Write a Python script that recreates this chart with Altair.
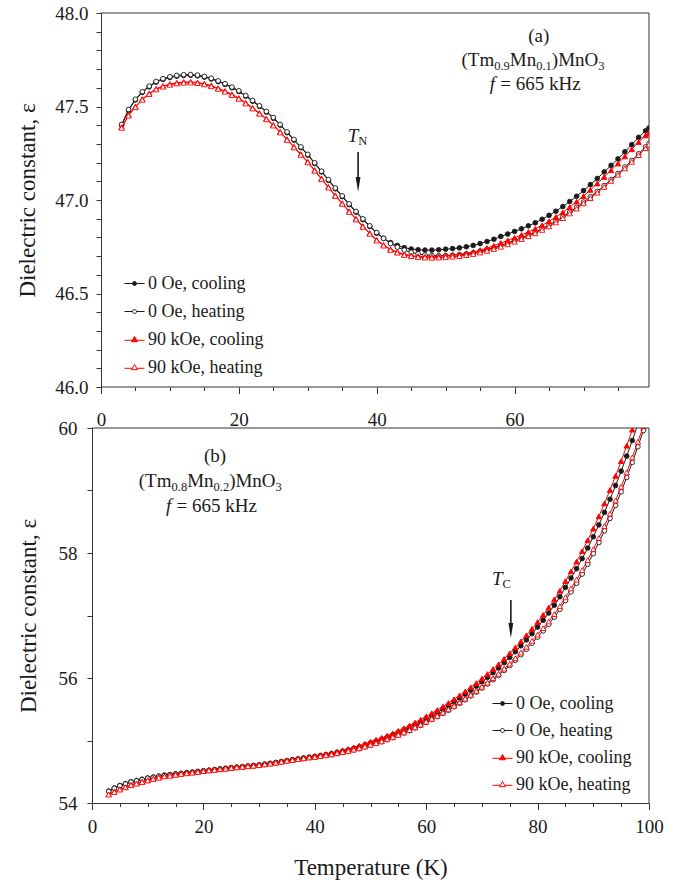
import altair as alt
import pandas as pd

SERIF = "Liberation Serif"
INK = "#1a1a1a"
AXIS_C = "#333333"
RED = "#ff0000"

LABELS = ["0 Oe, cooling", "0 Oe, heating", "90 kOe, cooling", "90 kOe, heating"]

# ---------------- panel (a): (Tm0.9Mn0.1)MnO3 ----------------
A_T = list(range(3, 80)) + [79.5]
A_C0 = [47.400, 47.480, 47.535, 47.575, 47.605, 47.630, 47.645, 47.655, 47.662, 47.666,
        47.667, 47.664, 47.657, 47.647, 47.633, 47.618, 47.600, 47.580, 47.555, 47.528,
        47.500, 47.470, 47.437, 47.400, 47.360, 47.320, 47.280, 47.240, 47.195, 47.150,
        47.105, 47.060, 47.018, 46.975, 46.935, 46.895, 46.858, 46.822, 46.795, 46.772,
        46.757, 46.745, 46.738, 46.734, 46.732, 46.732, 46.734, 46.737, 46.740, 46.744,
        46.750, 46.757, 46.767, 46.778, 46.790, 46.805, 46.818, 46.832, 46.846, 46.862,
        46.878, 46.897, 46.918, 46.940, 46.965, 46.992, 47.020, 47.050, 47.082, 47.115,
        47.150, 47.185, 47.220, 47.258, 47.296, 47.335, 47.370, 47.385]
A_H0 = [47.404, 47.484, 47.539, 47.579, 47.609, 47.634, 47.649, 47.659, 47.666, 47.670,
        47.671, 47.668, 47.661, 47.651, 47.637, 47.622, 47.604, 47.584, 47.559, 47.532,
        47.504, 47.474, 47.441, 47.404, 47.364, 47.324, 47.284, 47.244, 47.199, 47.154,
        47.109, 47.064, 47.022, 46.979, 46.939, 46.899, 46.862, 46.826, 46.795, 46.767,
        46.748, 46.732, 46.720, 46.712, 46.706, 46.703, 46.702, 46.703, 46.705, 46.708,
        46.712, 46.718, 46.726, 46.735, 46.745, 46.757, 46.770, 46.784, 46.798, 46.813,
        46.829, 46.847, 46.866, 46.887, 46.910, 46.935, 46.961, 46.989, 47.017, 47.046,
        47.077, 47.109, 47.142, 47.176, 47.211, 47.247, 47.284, 47.302]
A_RC = [47.390, 47.455, 47.500, 47.540, 47.570, 47.595, 47.610, 47.620, 47.627, 47.631,
        47.632, 47.629, 47.622, 47.612, 47.598, 47.583, 47.565, 47.545, 47.520, 47.493,
        47.465, 47.435, 47.402, 47.365, 47.325, 47.285, 47.245, 47.205, 47.160, 47.115,
        47.070, 47.025, 46.983, 46.940, 46.900, 46.860, 46.823, 46.787, 46.760, 46.737,
        46.722, 46.710, 46.703, 46.699, 46.697, 46.697, 46.699, 46.702, 46.705, 46.709,
        46.715, 46.722, 46.732, 46.743, 46.755, 46.770, 46.784, 46.798, 46.813, 46.829,
        46.846, 46.865, 46.886, 46.909, 46.934, 46.962, 46.991, 47.021, 47.054, 47.088,
        47.123, 47.159, 47.195, 47.233, 47.271, 47.310, 47.345, 47.357]
A_RH = [47.386, 47.451, 47.496, 47.536, 47.566, 47.591, 47.606, 47.616, 47.623, 47.627,
        47.628, 47.625, 47.618, 47.608, 47.594, 47.579, 47.561, 47.541, 47.516, 47.489,
        47.461, 47.431, 47.398, 47.361, 47.321, 47.281, 47.241, 47.201, 47.156, 47.111,
        47.066, 47.021, 46.979, 46.936, 46.896, 46.856, 46.819, 46.783, 46.756, 46.733,
        46.718, 46.706, 46.700, 46.695, 46.692, 46.691, 46.692, 46.694, 46.697, 46.700,
        46.705, 46.711, 46.719, 46.728, 46.738, 46.750, 46.763, 46.777, 46.791, 46.806,
        46.822, 46.840, 46.859, 46.880, 46.903, 46.928, 46.954, 46.982, 47.010, 47.039,
        47.070, 47.102, 47.135, 47.169, 47.204, 47.240, 47.277, 47.296]

# ---------------- panel (b): (Tm0.8Mn0.2)MnO3 ----------------
B_T_COOL = list(range(3, 99))
B_T_HEAT = list(range(3, 100))
B_C0 = [54.19, 54.24, 54.28, 54.31, 54.34, 54.36, 54.38, 54.40, 54.415, 54.43,
        54.445, 54.455, 54.465, 54.475, 54.485, 54.495, 54.505, 54.515, 54.525, 54.535,
        54.545, 54.555, 54.565, 54.574, 54.583, 54.592, 54.601, 54.61, 54.622, 54.635,
        54.649, 54.664, 54.68, 54.693, 54.706, 54.72, 54.733,
        54.745, 54.76, 54.775, 54.79, 54.81, 54.83, 54.85, 54.875, 54.90, 54.93,
        54.96, 54.99, 55.02, 55.055, 55.09, 55.13, 55.17, 55.21, 55.255, 55.30,
        55.35, 55.40, 55.45, 55.505, 55.56, 55.62, 55.68, 55.74, 55.805, 55.87,
        55.94, 56.01, 56.085, 56.16, 56.245, 56.33, 56.42, 56.515, 56.61, 56.71,
        56.815, 56.925, 57.04, 57.165, 57.30, 57.45, 57.60, 57.75, 57.91, 58.08,
        58.26, 58.45, 58.65, 58.86, 59.08, 59.31, 59.55, 59.80, 60.06]
B_RC = [54.14, 54.18, 54.22, 54.255, 54.29, 54.315, 54.34, 54.365, 54.39, 54.41,
        54.43, 54.44, 54.455, 54.47, 54.48, 54.49, 54.50,
        54.515, 54.525, 54.535, 54.545, 54.555, 54.565, 54.574, 54.583, 54.592, 54.601,
        54.61, 54.622, 54.635, 54.649, 54.664, 54.68, 54.693, 54.706, 54.72, 54.733,
        54.750, 54.766, 54.782, 54.798, 54.819, 54.840, 54.862, 54.889, 54.916, 54.948,
        54.980, 55.011, 55.042, 55.078, 55.114, 55.155, 55.197, 55.239, 55.286, 55.333,
        55.385, 55.436, 55.487, 55.543, 55.599, 55.660, 55.722, 55.784, 55.851, 55.918,
        55.990, 56.063, 56.141, 56.219, 56.307, 56.395, 56.488, 56.586, 56.684, 56.787,
        56.895, 57.009, 57.128, 57.257, 57.396, 57.550, 57.706, 57.862, 58.028, 58.204,
        58.390, 58.586, 58.792, 59.008, 59.234, 59.470, 59.717, 59.973, 60.240]
B_H0 = [54.185, 54.235, 54.275, 54.305, 54.335, 54.355, 54.375, 54.395, 54.41, 54.425,
        54.44, 54.45, 54.46, 54.47, 54.48, 54.49, 54.50, 54.51, 54.52, 54.53,
        54.54, 54.55, 54.56, 54.569, 54.578, 54.587, 54.596, 54.605, 54.617, 54.63,
        54.644, 54.659, 54.675, 54.688, 54.701, 54.715, 54.728,
        54.735, 54.748, 54.761, 54.774, 54.792, 54.810, 54.827, 54.849, 54.871, 54.898,
        54.925, 54.953, 54.981, 55.014, 55.047, 55.085, 55.122, 55.159, 55.201, 55.243,
        55.290, 55.336, 55.382, 55.433, 55.484, 55.540, 55.596, 55.652, 55.713, 55.774,
        55.840, 55.904, 55.973, 56.042, 56.121, 56.200, 56.284, 56.373, 56.462, 56.556,
        56.655, 56.755, 56.860, 56.975, 57.100, 57.240, 57.378, 57.516, 57.664, 57.822,
        57.990, 58.168, 58.356, 58.554, 58.762, 58.980, 59.210, 59.450, 59.700, 59.960]
B_RH = [54.135, 54.175, 54.215, 54.25, 54.285, 54.31, 54.335, 54.36, 54.385, 54.405,
        54.425, 54.435, 54.45, 54.465, 54.475, 54.485, 54.495, 54.51, 54.52, 54.53,
        54.54, 54.55, 54.56, 54.569, 54.578, 54.587, 54.596, 54.605, 54.617, 54.63,
        54.644, 54.659, 54.675, 54.688, 54.701, 54.715, 54.728,
        54.735, 54.749, 54.763, 54.777, 54.796, 54.815, 54.832, 54.854, 54.876, 54.903,
        54.930, 54.958, 54.986, 55.019, 55.052, 55.090, 55.128, 55.166, 55.209, 55.252,
        55.300, 55.347, 55.394, 55.446, 55.498, 55.555, 55.612, 55.669, 55.731, 55.793,
        55.860, 55.926, 55.997, 56.068, 56.149, 56.230, 56.316, 56.407, 56.498, 56.594,
        56.695, 56.797, 56.904, 57.021, 57.148, 57.290, 57.432, 57.574, 57.726, 57.888,
        58.060, 58.240, 58.430, 58.630, 58.840, 59.060, 59.290, 59.530, 59.780, 60.030]


def long_df(parts):
    frames = [pd.DataFrame({"T": t, "eps": v, "series": name}) for name, t, v in parts]
    return pd.concat(frames, ignore_index=True)


DF_A = long_df([(LABELS[0], A_T, A_C0), (LABELS[1], A_T, A_H0),
                (LABELS[2], A_T, A_RC), (LABELS[3], A_T, A_RH)])
DF_B = long_df([(LABELS[0], B_T_COOL, B_C0), (LABELS[1], B_T_HEAT, B_H0),
                (LABELS[2], B_T_COOL, B_RC), (LABELS[3], B_T_HEAT, B_RH)])

STYLE = {
    LABELS[0]: dict(stroke=INK, fill=INK, shape="circle", size=22),
    LABELS[1]: dict(stroke=INK, fill="white", shape="circle", size=22),
    LABELS[2]: dict(stroke=RED, fill=RED, shape="triangle-up", size=30),
    LABELS[3]: dict(stroke=RED, fill="white", shape="triangle-up", size=30),
}

LEG_PATHS = [
    "M-1,0H-0.2M0.2,0H1M0.2,0A0.2,0.2,0,1,1,-0.2,0A0.2,0.2,0,1,1,0.2,0Z",
    "M-1,0H-0.2M0.2,0H1M0.2,0A0.2,0.2,0,1,1,-0.2,0A0.2,0.2,0,1,1,0.2,0Z",
    "M-1,0.08H-0.24M0.24,0.08H1M0,-0.3L0.3,0.22L-0.3,0.22Z",
    "M-1,0.08H-0.24M0.24,0.08H1M0,-0.3L0.3,0.22L-0.3,0.22Z",
]
LEG_FILLS = [INK, "white", RED, "white"]
LEG_STROKES = [INK, INK, RED, RED]
ARROW_PATH = "M-0.32,-1L0,1L0.32,-1Z"

EM = {"(": 0.333, ")": 0.333, "T": 0.611, "m": 0.778, "M": 0.889, "n": 0.5, "O": 0.722,
      ".": 0.25, " ": 0.25, "=": 0.564, "k": 0.5, "H": 0.722, "z": 0.444, "f": 0.333,
      "N": 0.722, "C": 0.667}


def text_width(s, size, italic=False):
    if italic and s == "f":
        return 0.30 * size
    if italic and s == "T":
        return 0.556 * size
    return sum(EM.get(ch, 0.5) for ch in s) * size


def axis_x(values, major, title, label_pad, domain, title_pad=0):
    kw = dict(values=values, format="d",
              labelExpr=f"datum.value % {major} === 0 ? datum.label : ''",
              tickSize={"condition": {"test": f"datum.value % {major} === 0", "value": 6.5}, "value": 3.5},
              tickColor=AXIS_C, tickWidth=1, domain=domain, domainColor=AXIS_C, domainWidth=1,
              labelFont=SERIF, labelFontSize=19, labelColor=INK, labelPadding=label_pad,
              labelFlush=False, labelOverlap=False, grid=False)
    if title:
        kw.update(title=title, titleFont=SERIF, titleFontSize=23, titleFontWeight="normal",
                  titleColor=INK, titlePadding=title_pad)
    else:
        kw["title"] = None
    return alt.Axis(**kw)


def axis_y(values, label_expr, fmt, label_pad, title_pad, offset):
    return alt.Axis(values=values, format=fmt, labelExpr=label_expr, tickSize=5,
                    tickColor=AXIS_C, tickWidth=1, domainColor=AXIS_C, domainWidth=1,
                    labelFont=SERIF, labelFontSize=19, labelColor=INK, labelPadding=label_pad,
                    labelFlush=False, labelOverlap=False, grid=False, offset=offset,
                    title="Dielectric constant, ε", titleFont=SERIF, titleFontSize=23,
                    titleFontWeight="normal", titleColor=INK, titlePadding=title_pad)


def series_layers(df, xe, ye):
    out = []
    for name in LABELS:
        st = STYLE[name]
        base = alt.Chart(df).transform_filter(alt.datum.series == name)
        out.append(base.mark_line(color=st["stroke"], strokeWidth=1, clip=True).encode(x=xe, y=ye))
        out.append(base.mark_point(shape=st["shape"], filled=True, fill=st["fill"], stroke=st["stroke"],
                                   strokeWidth=0.9, size=st["size"], opacity=1, clip=True)
                   .encode(x=xe, y=ye))
    return out


def rich_text(segs, T, eps, xe, ye):
    out = []
    dx = 0.0
    for s, size, dy, italic, gap in segs:
        out.append(alt.Chart(pd.DataFrame({"T": [T], "eps": [eps]}))
                   .mark_text(text=s, align="left", baseline="alphabetic", dx=dx, dy=dy,
                              font=SERIF, fontSize=size, fontStyle="italic" if italic else "normal",
                              color=INK)
                   .encode(x=xe, y=ye))
        dx += text_width(s, size, italic) + gap
    return out


def formula(sub1, sub2, T, eps, xe, ye):
    return rich_text([("(Tm", 19, 0, False, 0), (sub1, 12.5, 4, False, 0), ("Mn", 19, 0, False, 0),
                      (sub2, 12.5, 4, False, 0), (")MnO", 19, 0, False, 0), ("3", 12.5, 4, False, 0)],
                     T, eps, xe, ye)


def freq(T, eps, xe, ye):
    return rich_text([("f", 19, 0, True, 19 * 0.25), ("= 665 kHz", 19, 0, False, 0)], T, eps, xe, ye)


def arrow(T, eps_top, eps_end, eps_head, xe, ye):
    shaft = alt.Chart(pd.DataFrame({"T": [T], "eps": [eps_top], "eps2": [eps_end]})).mark_rule(
        color=INK, strokeWidth=1.6).encode(x=xe, y=ye, y2=alt.Y2("eps2"))
    head = alt.Chart(pd.DataFrame({"T": [T], "eps": [eps_head]})).mark_point(
        shape=ARROW_PATH, filled=True, fill=INK, strokeWidth=0, size=225, opacity=1).encode(x=xe, y=ye)
    return [shaft, head]


def legend_layer(lx, ly, row_pad):
    leg = alt.Legend(title=None, orient="none", legendX=lx, legendY=ly, symbolSize=400,
                     symbolStrokeWidth=1, labelFont=SERIF, labelFontSize=18, labelColor=INK,
                     labelOffset=3, rowPadding=row_pad, padding=0, labelLimit=300)
    return (alt.Chart(pd.DataFrame({"series": LABELS})).transform_filter("false")
            .mark_point(filled=True, opacity=1)
            .encode(shape=alt.Shape("series:N", scale=alt.Scale(domain=LABELS, range=LEG_PATHS), legend=leg),
                    fill=alt.Fill("series:N", scale=alt.Scale(domain=LABELS, range=LEG_FILLS), legend=leg),
                    stroke=alt.Stroke("series:N", scale=alt.Scale(domain=LABELS, range=LEG_STROKES), legend=leg)))


def frame(x0, x1, y0, y1, xe, ye, horizontal_eps):
    h = alt.Chart(pd.DataFrame({"T": [x0] * len(horizontal_eps), "T2": [x1] * len(horizontal_eps),
                                "eps": horizontal_eps})).mark_rule(color=AXIS_C, strokeWidth=1).encode(
        x=xe, x2=alt.X2("T2"), y=ye)
    v = alt.Chart(pd.DataFrame({"T": [x1], "eps": [y0], "eps2": [y1]})).mark_rule(
        color=AXIS_C, strokeWidth=1).encode(x=xe, y=ye, y2=alt.Y2("eps2"))
    return [h, v]


# ---------- top panel ----------
XA = alt.X("T:Q", scale=alt.Scale(domain=[-1.3, 79.5], nice=False, zero=False),
           axis=axis_x(list(range(0, 80, 5)), 20, None, 17, False))
YA = alt.Y("eps:Q", scale=alt.Scale(domain=[46, 48], nice=False, zero=False),
           axis=axis_y([round(46 + 0.1 * i, 1) for i in range(21)],
                       "abs(datum.value * 2 - round(datum.value * 2)) < 0.001 ? datum.label : ''",
                       ".1f", 8, 15, -9))

top_layers = frame(0, 79.5, 46, 48, XA, YA, [46, 48])
top_layers += series_layers(DF_A, XA, YA)
top_layers.append(alt.Chart(pd.DataFrame({"T": [63.5], "eps": [47.879]})).mark_text(
    text="(a)", align="center", baseline="middle", font=SERIF, fontSize=19, color=INK).encode(x=XA, y=YA))
top_layers += formula("0.9", "0.1", 52.3, 47.717, XA, YA)
top_layers += freq(56.4, 47.590, XA, YA)
top_layers += rich_text([("T", 19, 0, True, 0), ("N", 12.5, 3, False, 0)], 35.8, 47.312, XA, YA)
top_layers += arrow(37.3, 47.257, 47.12, 47.083, XA, YA)
top_layers.append(legend_layer(32, 260, 8))
top = alt.layer(*top_layers).properties(width=557, height=374)

# ---------- bottom panel ----------
XB = alt.X("T:Q", scale=alt.Scale(domain=[0, 100], nice=False, zero=False),
           axis=axis_x(list(range(0, 101, 5)), 20, "Temperature (K)", 8, True, 20))
YB = alt.Y("eps:Q", scale=alt.Scale(domain=[54, 60], nice=False, zero=False),
           axis=axis_y([54 + 0.5 * i for i in range(13)],
                       "datum.value % 2 === 0 ? datum.label : ''", "d", 10, 18, 0))

bot_layers = frame(0, 100, 54, 60, XB, YB, [60])
bot_layers += series_layers(DF_B, XB, YB)
bot_layers.append(alt.Chart(pd.DataFrame({"T": [22.1], "eps": [59.557]})).mark_text(
    text="(b)", align="center", baseline="middle", font=SERIF, fontSize=19, color=INK).encode(x=XB, y=YB))
bot_layers += formula("0.8", "0.2", 8.4, 59.062, XB, YB)
bot_layers += freq(13.3, 58.662, XB, YB)
bot_layers += rich_text([("T", 19, 0, True, 0), ("C", 12.5, 3, False, 0)], 71.8, 57.488, XB, YB)
bot_layers += arrow(75.2, 57.248, 56.88, 56.76, XB, YB)
bot_layers.append(legend_layer(400, 265, 7))
bottom = alt.layer(*bot_layers).properties(width=557, height=375)

chart = (alt.vconcat(top, bottom, spacing=41, bounds="flush")
         .resolve_scale(shape="independent", fill="independent", stroke="independent")
         .properties(padding={"left": 16, "top": 4, "right": 5, "bottom": 5}, background="white")
         .configure_view(strokeWidth=0))

chart.save("out.html", embed_options={"renderer": "svg", "actions": False})
